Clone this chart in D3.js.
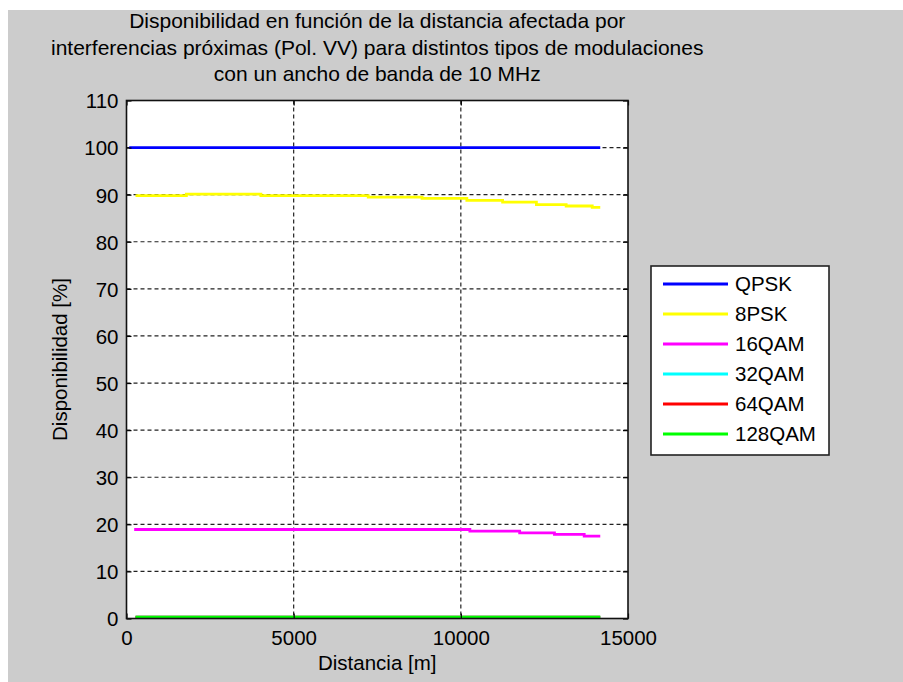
<!DOCTYPE html>
<html>
<head>
<meta charset="utf-8">
<script src="https://cdn.jsdelivr.net/npm/d3@7"></script>
<style>
  body { margin: 0; background: #fff; }
  text { font-family: "Liberation Sans", Arial, sans-serif; fill: #000; }
</style>
</head>
<body>
<div class="chart"></div>
<script>
// series: distancia [m] / disponibilidad [%]
var modulaciones = ["QPSK", "8PSK", "16QAM", "32QAM", "64QAM", "128QAM"];
var colores = ["#0000ff", "#ffff00", "#ff00ff", "#00ffff", "#ff0000", "#00ff00"];

var qpskDist = [80, 14170];
var qpskVal = [100, 100];
var psk8Dist = [270, 1790, 4020, 7230, 8840, 10180, 11250, 12260, 13150, 13930, 14170];
var psk8Val = [89.8, 90.1, 89.8, 89.5, 89.2, 88.8, 88.4, 87.9, 87.6, 87.3, 87.3];
var qam16Dist = [230, 10270, 11760, 12800, 13690, 14170];
var qam16Val = [18.9, 18.55, 18.2, 17.85, 17.5, 17.5];
var qam32Dist = [270, 14170];
var qam32Val = [0.3, 0.3];
var qam64Dist = [270, 14170];
var qam64Val = [0.3, 0.3];
var qam128Dist = [270, 14170];
var qam128Val = [0.3, 0.3];

var xTicks = [0, 5000, 10000, 15000];
var yTicks = [0, 10, 20, 30, 40, 50, 60, 70, 80, 90, 100, 110];
var titulo = ["Disponibilidad en función de la distancia afectada por",
              "interferencias próximas (Pol. VV) para distintos tipos de modulaciones",
              "con un ancho de banda de 10 MHz"];

var series = [
  [qpskDist, qpskVal], [psk8Dist, psk8Val], [qam16Dist, qam16Val],
  [qam32Dist, qam32Val], [qam64Dist, qam64Val], [qam128Dist, qam128Val]
].map(function(s, i) {
  return { name: modulaciones[i], color: colores[i],
           points: s[0].map(function(d, j) { return [d, s[1][j]]; }) };
});

var width = 903, height = 682;
var svg = d3.select(".chart").append("svg")
    .attr("width", width)
    .attr("height", height);

svg.append("rect")
    .attr("x", 8).attr("y", 10)
    .attr("width", width - 8).attr("height", height - 10)
    .attr("fill", "#cccccc");

var pLeft = 126.5, pRight = 628, pTop = 100.5, pBottom = 618.5;
var x = d3.scaleLinear().domain([0, 15000]).range([pLeft, pRight]);
var y = d3.scaleLinear().domain([0, 110]).range([pBottom, pTop]);

svg.append("rect")
    .attr("x", pLeft).attr("y", pTop)
    .attr("width", pRight - pLeft).attr("height", pBottom - pTop)
    .attr("fill", "#fff");

// grid
var grid = svg.append("g")
    .attr("stroke", "#222")
    .attr("stroke-width", 1.2)
    .attr("stroke-dasharray", "4,3");
grid.selectAll(".gx")
    .data(xTicks.filter(function(d) { return d > 0 && d < 15000; }))
    .enter().append("line")
    .attr("x1", function(d) { return x(d); }).attr("x2", function(d) { return x(d); })
    .attr("y1", pTop).attr("y2", pBottom);
grid.selectAll(".gy")
    .data(yTicks.filter(function(d) { return d > 0 && d < 110; }))
    .enter().append("line")
    .attr("y1", function(d) { return y(d); }).attr("y2", function(d) { return y(d); })
    .attr("x1", pLeft).attr("x2", pRight);

// lines
var line = d3.line()
    .x(function(d) { return x(d[0]); })
    .y(function(d) { return y(d[1]); })
    .curve(d3.curveStepAfter);

svg.append("g").selectAll("path")
    .data(series)
    .enter().append("path")
    .attr("d", function(d) { return line(d.points); })
    .attr("fill", "none")
    .attr("stroke", function(d) { return d.color; })
    .attr("stroke-width", 2.8);

// axes (ticks inward, on all sides)
var fs = "20.5px";
var fmt = d3.format("d");
var axB = svg.append("g").attr("transform", "translate(0," + pBottom + ")")
    .call(d3.axisBottom(x).tickValues(xTicks).tickFormat(fmt).tickSizeInner(-5).tickSizeOuter(0).tickPadding(12));
var axL = svg.append("g").attr("transform", "translate(" + pLeft + ",0)")
    .call(d3.axisLeft(y).tickValues(yTicks).tickFormat(fmt).tickSizeInner(-5).tickSizeOuter(0).tickPadding(8));
var axT = svg.append("g").attr("transform", "translate(0," + pTop + ")")
    .call(d3.axisTop(x).tickValues(xTicks).tickSizeInner(-5).tickSizeOuter(0).tickFormat(""));
var axR = svg.append("g").attr("transform", "translate(" + pRight + ",0)")
    .call(d3.axisRight(y).tickValues(yTicks).tickSizeInner(-5).tickSizeOuter(0).tickFormat(""));
[axB, axL, axT, axR].forEach(function(a) {
  a.select(".domain").remove();
  a.selectAll("line").attr("stroke", "#000").attr("stroke-width", 1.2);
  a.selectAll("text").style("font-size", fs).style("font-family", "Liberation Sans, Arial, sans-serif").attr("fill", "#111");
});
axL.selectAll("text").attr("dy", "0.36em");

svg.append("rect")
    .attr("x", pLeft).attr("y", pTop)
    .attr("width", pRight - pLeft).attr("height", pBottom - pTop)
    .attr("fill", "none")
    .attr("stroke", "#111")
    .attr("stroke-width", 1.6);

// title and labels
svg.append("g").selectAll("text")
    .data(titulo)
    .enter().append("text")
    .attr("x", (pLeft + pRight) / 2)
    .attr("y", function(d, i) { return 28 + i * 26.5; })
    .attr("text-anchor", "middle")
    .style("font-size", "21px")
    .text(function(d) { return d; });

svg.append("text")
    .attr("x", (pLeft + pRight) / 2).attr("y", 670)
    .attr("text-anchor", "middle")
    .style("font-size", fs)
    .text("Distancia [m]");

svg.append("text")
    .attr("transform", "translate(67," + ((pTop + pBottom) / 2) + ") rotate(-90)")
    .attr("text-anchor", "middle")
    .style("font-size", fs)
    .text("Disponibilidad [%]");

// legend
var legend = svg.append("g").attr("transform", "translate(651,266)");
legend.append("rect")
    .attr("width", 178).attr("height", 189)
    .attr("fill", "#fff")
    .attr("stroke", "#222")
    .attr("stroke-width", 1.6);
var item = legend.selectAll(".item")
    .data(series)
    .enter().append("g")
    .attr("transform", function(d, i) { return "translate(0," + (18 + i * 30) + ")"; });
item.append("line")
    .attr("x1", 12).attr("x2", 77)
    .attr("stroke", function(d) { return d.color; })
    .attr("stroke-width", 2.8);
item.append("text")
    .attr("x", 84).attr("dy", "0.36em")
    .style("font-size", fs)
    .text(function(d) { return d.name; });
</script>
</body>
</html>
